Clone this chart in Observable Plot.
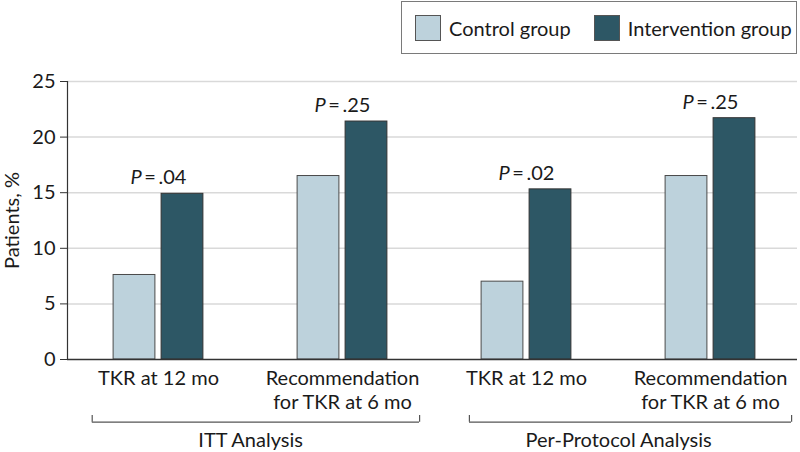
<!DOCTYPE html>
<html><head><meta charset="utf-8">
<script src="https://cdn.jsdelivr.net/npm/d3@7"></script>
<script src="https://cdn.jsdelivr.net/npm/@observablehq/plot@0.6"></script>
<style>
body{margin:0;background:#fff;font-family:Lato, sans-serif;}
#wrap{position:relative;width:800px;height:452px;overflow:hidden;}
#legend{position:absolute;left:401px;top:1px;width:394px;height:51px;border:1.5px solid #7a7a7a;display:flex;align-items:center;font-size:20px;color:#1a1a1a;box-sizing:content-box;}
#legend .sw{display:inline-block;width:24px;height:24px;border:1px solid #555;margin-right:8px;}
#legend .item{display:flex;align-items:center;}
#legend .item:first-child{margin-left:13px;margin-right:23px;}
#chart{position:absolute;left:0;top:0;}
</style></head>
<body><div id="wrap"><div id="chart"></div><div id="legend"></div></div>
<script>
const analyses = ["ITT Analysis", "Per-Protocol Analysis"];
const outcomes = ["TKR at 12 mo", "Recommendation\nfor TKR at 6 mo"];
const groups = ["Control group", "Intervention group"];
const groupColors = ["#bdd2dc", "#2d5765"];
const controlValues = [7.6, 16.5, 7.0, 16.5];
const interventionValues = [14.9, 21.4, 15.3, 21.7];
const pValues = [".04", ".25", ".02", ".25"];
const yTicks = [0, 5, 10, 15, 20, 25];

const keys = [];
const outcomeOf = {};
analyses.forEach(a => outcomes.forEach(o => { const k = a + "|" + o; keys.push(k); outcomeOf[k] = o; }));
const rows = keys.map((k, i) => ({key: k, outcome: outcomeOf[k], control: controlValues[i], intervention: interventionValues[i], p: pValues[i]}));
const brackets = analyses.map(a => ({analysis: a, first: a + "|" + outcomes[0], last: a + "|" + outcomes[1]}));

const bracketLineY = -5.64, bracketTickY = -5.04;
function bracketMarks(b, inL, inR, dxL, dxR) {
  return [
    Plot.ruleY([b], {x1: "first", x2: "last", y: () => bracketLineY, insetLeft: inL, insetRight: inR, stroke: "#555", strokeWidth: 1.2}),
    Plot.ruleX([b], {x: "first", y1: () => bracketTickY, y2: () => bracketLineY, dx: dxL, stroke: "#555", strokeWidth: 1.2}),
    Plot.ruleX([b], {x: "last", y1: () => bracketTickY, y2: () => bracketLineY, dx: dxR, stroke: "#555", strokeWidth: 1.2})
  ];
}

const chart = Plot.plot({
  width: 800, height: 452,
  marginTop: 81, marginBottom: 93, marginLeft: 67, marginRight: 3,
  style: {fontFamily: "Lato, sans-serif", fontSize: "20px", color: "#1a1a1a", background: "white", overflow: "visible"},
  x: {domain: keys, range: [65.9, 802.7], padding: 0, axis: null},
  y: {domain: [0, 25], axis: null},
  marks: [
    Plot.gridY(yTicks.slice(1), {stroke: "#d9d9d9", strokeOpacity: 1, strokeWidth: 1.5}),
    Plot.barY(rows, {x: "key", y: "control", fill: groupColors[0], stroke: "#4a4a4a", strokeWidth: 1, insetLeft: 47.1, insetRight: 95.1}),
    Plot.barY(rows, {x: "key", y: "intervention", fill: groupColors[1], stroke: "#333", strokeWidth: 1, insetLeft: 95.1, insetRight: 47.1}),
    Plot.ruleY([0], {stroke: "#333", strokeWidth: 1.5}),
    Plot.axisY({ticks: yTicks, tickSize: 7, tickPadding: 5, label: null, stroke: "#333"}),
    Plot.frame({anchor: "left", stroke: "#333", strokeWidth: 1.2}),
    Plot.text(["Patients, %"], {frameAnchor: "left", text: d => d, rotate: -90, dx: -63, lineAnchor: "top", textAnchor: "middle"}),
    Plot.text(rows, {x: "key", y: d => Math.max(d.control, d.intervention), text: d => "P\u2009=\u2009" + d.p, lineAnchor: "bottom", dy: -9.5}),
    Plot.text(rows, {x: "key", y: () => 0, text: "outcome", lineAnchor: "top", dy: 8.3, lineHeight: 1.2}),
    ...bracketMarks(brackets[0], 25.8, 15, -66.3, 77.1),
    ...bracketMarks(brackets[1], 35, 11, -57.1, 81.1),
    Plot.text(brackets, {x: "first", y: () => bracketLineY, text: "analysis", dx: 92.1, dy: 11, lineAnchor: "top"})
  ]
});
document.getElementById("chart").appendChild(chart);

d3.select(chart).selectAll("text").filter(function() { return /^P\u2009=/.test(this.textContent); }).each(function() {
  const rest = this.textContent.slice(1);
  this.textContent = "";
  d3.select(this).append("tspan").attr("font-style", "italic").text("P");
  d3.select(this).append("tspan").text(rest);
});

const legend = d3.select("#legend");
groups.forEach((g, i) => {
  const item = legend.append("div").attr("class", "item");
  item.append("span").attr("class", "sw").style("background", groupColors[i]);
  item.append("span").text(g);
});
</script>
</body></html>
